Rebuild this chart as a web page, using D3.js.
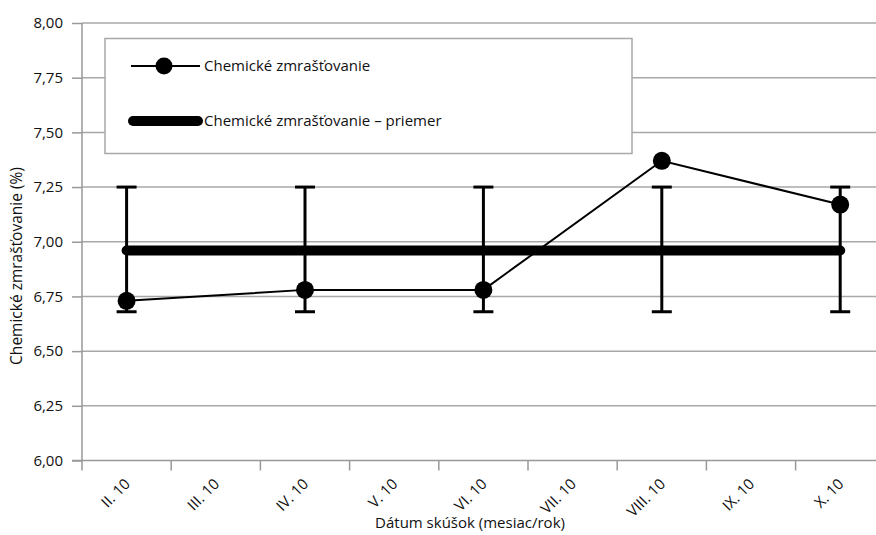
<!DOCTYPE html>
<html>
<head>
<meta charset="utf-8">
<script src="https://cdn.jsdelivr.net/npm/d3@7"></script>
<style>
  body { margin: 0; background: #fff; }
  text { font-family: "Open Sans", sans-serif; fill: #111; }
</style>
</head>
<body>
<svg width="876" height="535"></svg>
<script>
// categories on the x axis (months of 2010)
var months = ["II. 10", "III. 10", "IV. 10", "V. 10", "VI. 10", "VII. 10", "VIII. 10", "IX. 10", "X. 10"];
// measured points
var sampleMonths = ["II. 10", "IV. 10", "VI. 10", "VIII. 10", "X. 10"];
var shrinkage = [6.73, 6.78, 6.78, 7.37, 7.17];
var errLow = [6.68, 6.68, 6.68, 6.68, 6.68];
var errHigh = [7.25, 7.25, 7.25, 7.25, 7.25];
var meanValue = 6.96;
var yTicks = [6.00, 6.25, 6.50, 6.75, 7.00, 7.25, 7.50, 7.75, 8.00];

var svg = d3.select("svg");
var margin = { top: 23, left: 82 };
var bandW = 89.2;
var width = bandW * months.length;   // runs past the right edge, like the source
var height = 437.5;
var fs = 15;
var g = svg.append("g").attr("transform", "translate(" + margin.left + ", " + margin.top + ")");

var x = d3.scaleBand().domain(months).range([0, width]);
var y = d3.scaleLinear().domain([6, 8]).range([height, 0]);
var fmt = function (d) { return d3.format(".2f")(d).replace(".", ","); };
var cx = function (m) { return x(m) + x.bandwidth() / 2; };

// gridlines
g.append("g").selectAll("line").data(yTicks.slice(1)).enter().append("line")
    .attr("x1", 0).attr("x2", width)
    .attr("y1", function (d) { return y(d); }).attr("y2", function (d) { return y(d); })
    .attr("stroke", "#a8a8a8").attr("stroke-width", 1.5);

// y axis
var yAxis = g.append("g").call(d3.axisLeft(y).tickValues(yTicks).tickFormat(fmt).tickSize(10).tickPadding(9));
yAxis.select(".domain").attr("stroke", "#999").attr("stroke-width", 1.5).attr("d", "M0," + y(8) + "V" + height);
yAxis.selectAll(".tick line").attr("stroke", "#999").attr("stroke-width", 1.5);
yAxis.selectAll(".tick text").attr("font-size", fs).attr("font-family", "Open Sans").attr("fill", "#111");

// x axis: ticks sit between categories
var xAxis = g.append("g").attr("transform", "translate(0, " + height + ")");
xAxis.append("line").attr("x1", -10).attr("x2", width).attr("stroke", "#999").attr("stroke-width", 1.5);
xAxis.selectAll(".xt").data(months).enter().append("line").attr("class", "xt")
    .attr("x1", function (d) { return x(d); }).attr("x2", function (d) { return x(d); })
    .attr("y1", 0).attr("y2", 10).attr("stroke", "#999").attr("stroke-width", 1.5);
xAxis.selectAll(".xl").data(months).enter().append("text").attr("class", "xl")
    .attr("transform", function (d) { return "translate(" + (cx(d) - 3) + ", 17) rotate(-45)"; })
    .attr("text-anchor", "end").attr("dy", "0.7em").attr("font-size", fs).text(function (d) { return d; });

// axis titles
svg.append("text").attr("x", 470).attr("y", 528).attr("text-anchor", "middle").attr("font-size", fs)
    .text("Dátum skúšok (mesiac/rok)");
svg.append("text").attr("transform", "translate(22, 266) rotate(-90)")
    .attr("text-anchor", "middle").attr("font-size", 15.5).text("Chemické zmrašťovanie (%)");

// legend box
var leg = svg.append("g");
leg.append("rect").attr("x", 105).attr("y", 38.5).attr("width", 527).attr("height", 115)
    .attr("fill", "#fff").attr("stroke", "#a8a8a8").attr("stroke-width", 1.5);
leg.append("line").attr("x1", 131).attr("x2", 200).attr("y1", 66).attr("y2", 66).attr("stroke", "#000").attr("stroke-width", 2);
leg.append("circle").attr("cx", 164).attr("cy", 66).attr("r", 8.5).attr("fill", "#000");
leg.append("text").attr("x", 204).attr("y", 66).attr("dy", "0.35em").attr("font-size", fs).text("Chemické zmrašťovanie");
leg.append("line").attr("x1", 133).attr("x2", 198).attr("y1", 121).attr("y2", 121).attr("stroke", "#000")
    .attr("stroke-width", 10).attr("stroke-linecap", "round");
leg.append("text").attr("x", 204).attr("y", 121).attr("dy", "0.35em").attr("font-size", fs).text("Chemické zmrašťovanie – priemer");

var pts = sampleMonths.map(function (m, i) {
    return { m: m, v: shrinkage[i], lo: errLow[i], hi: errHigh[i] };
});

// error bars
var eb = g.append("g").selectAll("g").data(pts).enter().append("g").attr("stroke", "#000").attr("stroke-width", 3);
eb.append("line").attr("x1", function (d) { return cx(d.m); }).attr("x2", function (d) { return cx(d.m); })
    .attr("y1", function (d) { return y(d.lo); }).attr("y2", function (d) { return y(d.hi); });
eb.append("line").attr("x1", function (d) { return cx(d.m) - 10; }).attr("x2", function (d) { return cx(d.m) + 10; })
    .attr("y1", function (d) { return y(d.lo); }).attr("y2", function (d) { return y(d.lo); });
eb.append("line").attr("x1", function (d) { return cx(d.m) - 10; }).attr("x2", function (d) { return cx(d.m) + 10; })
    .attr("y1", function (d) { return y(d.hi); }).attr("y2", function (d) { return y(d.hi); });

// mean line
g.append("line").attr("x1", cx(sampleMonths[0])).attr("x2", cx(sampleMonths[sampleMonths.length - 1]))
    .attr("y1", y(meanValue)).attr("y2", y(meanValue))
    .attr("stroke", "#000").attr("stroke-width", 10).attr("stroke-linecap", "round");

// data line + markers
var line = d3.line().x(function (d) { return cx(d.m); }).y(function (d) { return y(d.v); });
g.append("path").datum(pts).attr("fill", "none").attr("stroke", "#000").attr("stroke-width", 2).attr("d", line);
g.append("g").selectAll("circle").data(pts).enter().append("circle")
    .attr("cx", function (d) { return cx(d.m); }).attr("cy", function (d) { return y(d.v); })
    .attr("r", 9).attr("fill", "#000");
</script>
</body>
</html>
